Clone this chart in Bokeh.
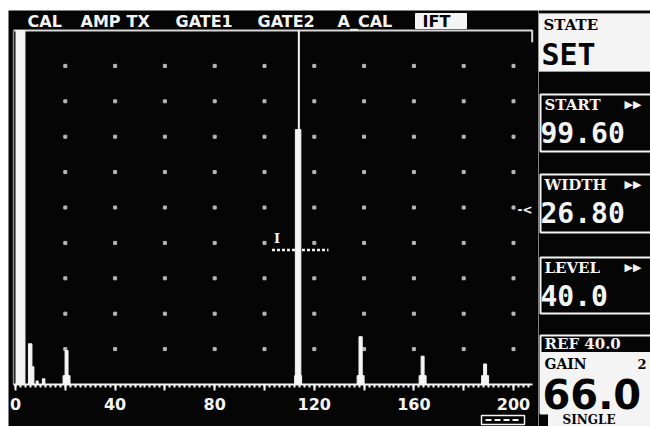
from bokeh.plotting import figure
from bokeh.layouts import row
from bokeh.models import Range1d, LinearAxis, FixedTicker
from bokeh.core.properties import value
from bokeh.embed import file_html
from bokeh.resources import INLINE

# ---------------- data ----------------
# A-scan echoes: position (x units) and amplitude (% screen height)
echo_pos = [20.5, 113.5, 138.6, 163.5, 188.6]
echo_amp = [9.6, 72.0, 13.5, 8.0, 5.8]
# initial pulse and its ringing
pulse_pos = [2.0, 5.9, 7.0, 8.7, 11.3]
pulse_amp = [100.0, 11.5, 5.0, 1.0, 1.6]
# gate and cursor
gate_start = 103.0
gate_end = 125.7
gate_level = 38.0
cursor_pos = 113.8
# axis ticks and labels
tick_values = [0, 20, 40, 60, 80, 100, 120, 140, 160, 180, 200]
tick_labels = ["0", "", "40", "", "80", "", "120", "", "160", "", "200"]
minor_values = list(range(0, 208, 2))
grid_cols = [20, 40, 60, 80, 100, 120, 140, 160, 180, 200]
grid_rows = [10, 20, 30, 40, 50, 60, 70, 80, 90]
# menu and side panel texts
menu_items = ["CAL", "AMP", "TX", "GATE1", "GATE2", "A_CAL", "IFT"]
state_value = "SET"
start_value = "99.60"
width_value = "26.80"
level_value = "40.0"
ref_value = "40.0"
gain_value = "66.0"
gain_step = "2"
mode_value = "SINGLE"

# ---------------- layout constants (page pixels) ----------------
H = 426
W_MAIN = 538
W_SIDE = 112
TOP = 10           # white strip above the screen
LEFT = 8           # white strip left of the screen
SX = 2.49          # px per x unit
SY = 3.54          # px per % amplitude
X0 = 15            # page px of x = 0
BASE = 384         # page px of amplitude 0

def cx(page_x):
    return (page_x - X0) / SX

def cy(page_y):
    return (BASE - page_y) / SY

WHITE = "#f4f4f4"
BLACK = "#050505"
BOLD_SANS = value("DejaVu Sans")
BOLD_SERIF = value("DejaVu Serif")
MONO = value("DejaVu Sans Mono")

p = figure(width=W_MAIN, height=H,
           x_range=Range1d(cx(LEFT), cx(W_MAIN)),
           y_range=Range1d(cy(H), cy(TOP)),
           output_backend="svg", toolbar_location=None,
           x_axis_type=None, y_axis_type=None,
           min_border_left=LEFT, min_border_top=TOP,
           min_border_right=0, min_border_bottom=0,
           background_fill_color=BLACK, border_fill_color="white",
           outline_line_color=None)

# dotted graticule
gx = [c for c in grid_cols for r in grid_rows]
gy = [r for c in grid_cols for r in grid_rows]
p.scatter(gx, gy, size=3, marker="square", color="#b8b8b8")

# frame line with bracket at the right end
frame_left = -0.8
frame_right = 207.5
p.line([frame_left, frame_right, frame_right], [100, 100, 96.7],
       line_color="#d8d8d8", line_width=2)
p.line([frame_left, frame_left], [0, 100], line_color="#8a8a8a", line_width=1.5)

# baseline axis
ax = LinearAxis(fixed_location=0,
                ticker=FixedTicker(ticks=tick_values, minor_ticks=minor_values),
                bounds=(frame_left, frame_right),
                major_label_overrides={t: l for t, l in zip(tick_values, tick_labels)})
ax.axis_line_color = WHITE
ax.axis_line_width = 2
ax.major_tick_line_color = WHITE
ax.major_tick_line_width = 2
ax.major_tick_in = 0
ax.major_tick_out = 6
ax.minor_tick_line_color = WHITE
ax.minor_tick_line_width = 2
ax.minor_tick_in = 0
ax.minor_tick_out = 3
ax.major_label_text_color = WHITE
ax.major_label_text_font = "DejaVu Sans"
ax.major_label_text_font_style = "bold"
ax.major_label_text_font_size = "16px"
ax.major_label_standoff = 7
p.add_layout(ax, "below")

# initial pulse
p.vbar(x=pulse_pos, top=pulse_amp, bottom=0, width=[3.6, 1.4, 0.8, 0.8, 1.0],
       color=WHITE)
# echoes
p.vbar(x=echo_pos, top=echo_amp, bottom=0, width=[1.2, 2.2, 1.3, 1.2, 1.2],
       color=WHITE)
p.vbar(x=echo_pos, top=[min(a, 2.5) for a in echo_amp], bottom=0, width=2.8,
       color=WHITE)

# cursor line
p.segment(x0=[cursor_pos], y0=[0], x1=[cursor_pos], y1=[100],
          line_color=WHITE, line_width=2)

# gate
p.line([gate_start, gate_end], [gate_level, gate_level], line_color=WHITE,
       line_width=2.5, line_dash="3 2")
p.text(x=[gate_start], y=[gate_level], text=["I"], x_offset=2, y_offset=-4,
       text_color=WHITE, text_font=BOLD_SERIF, text_font_style="bold",
       text_font_size="13px", text_baseline="bottom", text_align="left")

# menu bar
menu_px = [27, 80, 126, 175, 257, 337, 422]
p.quad(left=[cx(415)], right=[cx(466)], top=[cy(13)], bottom=[cy(28)],
       color=WHITE)
p.text(x=[cx(v) for v in menu_px], y=[cy(21)] * len(menu_items),
       text=menu_items,
       text_color=[WHITE] * (len(menu_items) - 1) + [BLACK],
       text_font=BOLD_SANS, text_font_style="bold", text_font_size="16px",
       text_baseline="middle", text_align="left")

# marker pointing at WIDTH box
p.text(x=[cx(517)], y=[cy(209)], text=["-<"], text_color=WHITE,
       text_font=BOLD_SANS, text_font_style="bold", text_font_size="12px",
       text_baseline="middle", text_align="left")

# battery icon
p.quad(left=[cx(481)], right=[cx(524)], top=[cy(415)], bottom=[cy(424)],
       fill_color=None, line_color=WHITE, line_width=1.5)
p.line([cx(485), cx(520)], [cy(419.5), cy(419.5)], line_color=WHITE,
       line_width=2, line_dash="6 3")

# ---------------- side panel ----------------
s = figure(width=W_SIDE, height=H, x_range=Range1d(W_MAIN, W_MAIN + W_SIDE),
           y_range=Range1d(H, TOP), output_backend="svg",
           toolbar_location=None, x_axis_type=None, y_axis_type=None,
           min_border_top=TOP, min_border_left=0, min_border_right=0,
           min_border_bottom=0, background_fill_color=BLACK,
           border_fill_color="white", outline_line_color=None)

# STATE box
s.quad(left=[538], right=[660], top=[13], bottom=[71], fill_color=WHITE,
       line_color="#9a9a9a", line_width=1)
s.text(x=[543], y=[24], text=["STATE"], text_color=BLACK, text_font=BOLD_SERIF,
       text_font_style="bold", text_font_size="15px", text_baseline="middle")
s.text(x=[541], y=[54], text=[state_value], text_color=BLACK, text_font=MONO,
       text_font_style="bold", text_font_size="30px", text_baseline="middle")

# parameter boxes
boxes = [("START", start_value, 94, 151), ("WIDTH", width_value, 174, 232),
         ("LEVEL", level_value, 257, 313)]
for name, val, top, bot in boxes:
    s.quad(left=[540], right=[660], top=[top], bottom=[bot], fill_color=BLACK,
           line_color=WHITE, line_width=2)
    s.text(x=[544], y=[top + 10], text=[name], text_color=WHITE,
           text_font=BOLD_SERIF, text_font_style="bold", text_font_size="15px",
           text_baseline="middle")
    s.text(x=[624], y=[top + 10], text=["\u25b6\u25b6"], text_color=WHITE,
           text_font=BOLD_SANS, text_font_size="11px", text_baseline="middle")
    s.text(x=[540], y=[top + 38], text=[val], text_color=WHITE,
           text_font=MONO, text_font_style="bold", text_font_size="28px",
           text_baseline="middle")

# REF / GAIN box
s.quad(left=[540], right=[660], top=[335], bottom=[413], fill_color=BLACK,
       line_color=WHITE, line_width=2)
s.text(x=[544], y=[343], text=["REF " + ref_value], text_color=WHITE,
       text_font=BOLD_SERIF, text_font_style="bold", text_font_size="15px",
       text_baseline="middle")
s.quad(left=[541], right=[660], top=[352], bottom=[412], color=WHITE)
s.text(x=[544], y=[363], text=["GAIN"], text_color=BLACK, text_font=BOLD_SERIF,
       text_font_style="bold", text_font_size="14px", text_baseline="middle")
s.text(x=[637], y=[363], text=[gain_step], text_color=BLACK,
       text_font=BOLD_SERIF, text_font_style="bold", text_font_size="13px",
       text_baseline="middle")
s.text(x=[542], y=[393], text=[gain_value], text_color=BLACK,
       text_font=BOLD_SANS, text_font_style="bold", text_font_size="40px",
       text_baseline="middle")

# SINGLE label
s.quad(left=[548], right=[660], top=[414], bottom=[427], color=WHITE)
s.text(x=[562], y=[419.5], text=[mode_value], text_color=BLACK,
       text_font=BOLD_SERIF, text_font_style="bold", text_font_size="12px",
       text_baseline="middle")

layout = row(p, s, spacing=0)
open("out.html", "w").write(file_html(layout, INLINE))
